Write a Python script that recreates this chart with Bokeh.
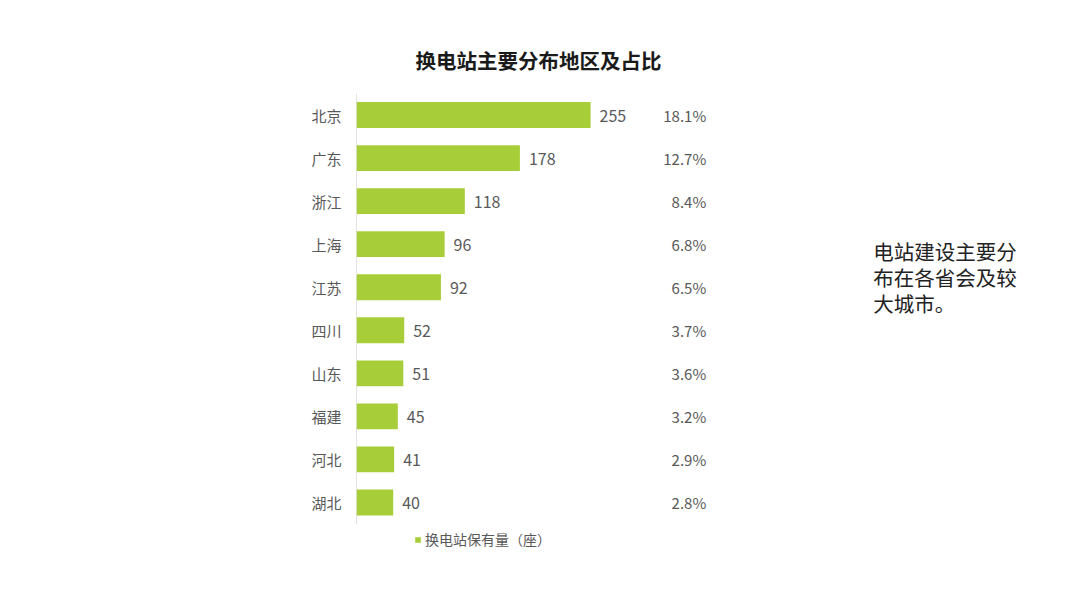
from bokeh.plotting import figure
from bokeh.models import ColumnDataSource, FixedTicker, Title, Legend, LegendItem
from bokeh.core.properties import value
from bokeh.embed import file_html
from bokeh.resources import INLINE

# ---- data ----
regions = ["北京", "广东", "浙江", "上海", "江苏", "四川", "山东", "福建", "河北", "湖北"]
counts = [255, 178, 118, 96, 92, 52, 51, 45, 41, 40]
shares = ["18.1%", "12.7%", "8.4%", "6.8%", "6.5%", "3.7%", "3.6%", "3.2%", "2.9%", "2.8%"]
title_text = "换电站主要分布地区及占比"
series_name = "换电站保有量（座）"
note_text = "电站建设主要分\n布在各省会及较\n大城市。"

FONT = "Noto Sans CJK SC"
GREEN = "#A7CE38"
GRAY = "#595959"

n = len(regions)
ypos = [n - 1 - i for i in range(n)]  # top bar first

src = ColumnDataSource(dict(
    y=ypos,
    count=counts,
    count_label=[str(c) for c in counts],
    share=shares,
    share_x=[381] * n,
))

p = figure(width=1072, height=600, output_backend="svg", toolbar_location=None,
           x_range=(0, 780), y_range=(-1.58, n - 0.5),
           min_border_left=356, min_border_right=0, min_border_top=93, min_border_bottom=30,
           title=None)
p.outline_line_color = None
p.xgrid.visible = False
p.ygrid.visible = False
p.xaxis.visible = False
p.background_fill_color = "white"

yax = p.yaxis[0]
yax.ticker = FixedTicker(ticks=ypos)
yax.major_label_overrides = {y: r for y, r in zip(ypos, regions)}
yax.axis_line_color = None
yax.major_tick_line_color = None
yax.minor_tick_line_color = None
yax.major_label_standoff = 9
yax.major_label_text_font = FONT
yax.major_label_text_font_size = "15px"
yax.major_label_text_color = GRAY

# axis line only across the bar region
p.segment(x0=0, y0=-0.5, x1=0, y1=n - 0.5, line_color="#c8c8c8", line_width=1)

bars = p.hbar(y="y", left=0, right="count", height=0.6, source=src,
              fill_color=GREEN, line_color=None)

p.text(x="count", y="y", text="count_label", source=src, x_offset=9, y_offset=1,
       text_font=value(FONT), text_font_size="16px", text_color=GRAY,
       text_align="left", text_baseline="middle")

p.text(x="share_x", y="y", text="share", source=src,
       text_font=value(FONT), text_font_size="15px", text_color=GRAY,
       text_align="right", text_baseline="middle")

p.text(x=[563], y=[6.18], text=[note_text],
       text_font=value(FONT), text_font_size="20.5px", text_color="#222222",
       text_align="left", text_baseline="top", text_line_height=0.86)

t = Title(text=title_text, align="left", offset=59, text_font=FONT,
          text_font_size="20.5px", text_font_style="bold", text_color="#1a1a1a",
          standoff=38)
p.add_layout(t, "above")

legend = Legend(items=[LegendItem(label=series_name, renderers=[bars])],
                location=(58, 21), orientation="horizontal",
                glyph_width=7, glyph_height=7, label_standoff=4,
                padding=0, margin=0, border_line_color=None,
                background_fill_alpha=0,
                label_text_font=FONT, label_text_font_size="14px",
                label_text_color=GRAY)
p.add_layout(legend, "center")

open("out.html", "w").write(file_html(p, INLINE))
